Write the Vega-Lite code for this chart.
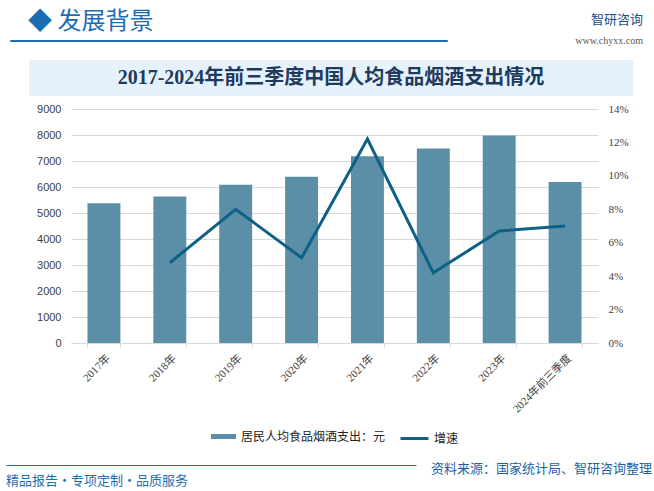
{
  "$schema": "https://vega.github.io/schema/vega-lite/v6.json",
  "background": "white",
  "padding": {"left": 5, "top": 9, "right": 0, "bottom": 0},
  "config": {
    "view": {"stroke": null},
    "font": "Noto Sans CJK SC",
    "title": {"font": "Noto Sans CJK SC", "fontWeight": "normal"},
    "legend": {"layout": {"bottom": {"anchor": "middle", "direction": "horizontal", "margin": 13}}}
  },
  "datasets": {
    "main": [
      {"year": "2017年", "spend": 5374, "growth": null},
      {"year": "2018年", "spend": 5631, "growth": 0.048},
      {"year": "2019年", "spend": 6084, "growth": 0.080},
      {"year": "2020年", "spend": 6397, "growth": 0.051},
      {"year": "2021年", "spend": 7178, "growth": 0.122},
      {"year": "2022年", "spend": 7481, "growth": 0.042},
      {"year": "2023年", "spend": 7983, "growth": 0.067},
      {"year": "2024年前三季度", "spend": 6191, "growth": 0.070}
    ],
    "titleRow": [{"t": "2017-2024年前三季度中国人均食品烟酒支出情况"}],
    "blank": [{"k": 1}]
  },
  "spacing": 0,
  "vconcat": [
    {
      "spacing": 0,
      "hconcat": [
        {"width": 3, "height": 20, "data": {"name": "blank"}, "mark": {"type": "text"}, "encoding": {}},
        {
          "width": 437,
          "height": 1,
          "view": {"stroke": "#1d6fb0", "strokeWidth": 1},
          "title": {"text": "\u2800◆ 发展背景", "anchor": "start", "fontSize": 24, "color": "#1b6cb1", "offset": 1},
          "data": {"name": "blank"},
          "mark": {"type": "text"},
          "encoding": {}
        },
        {"width": 120, "height": 1, "data": {"name": "blank"}, "mark": {"type": "text"}, "encoding": {}},
        {
          "width": 75,
          "height": 1,
          "title": {"text": "智研咨询", "subtitle": "www.chyxx.com", "anchor": "end", "fontSize": 13, "color": "#1d4f8a", "subtitleFontSize": 10, "subtitleColor": "#555555", "subtitleFont": "Liberation Serif", "subtitlePadding": 9, "offset": -11},
          "data": {"name": "blank"},
          "mark": {"type": "text"},
          "encoding": {}
        }
      ]
    },
    {
      "spacing": 0,
      "hconcat": [
        {"width": 23, "height": 43, "data": {"name": "blank"}, "mark": {"type": "text"}, "encoding": {}},
        {
          "width": 604,
          "height": 36,
          "view": {"fill": "#e6f2fb", "stroke": null},
          "data": {"name": "titleRow"},
          "mark": {"type": "text", "font": "Liberation Serif, Noto Sans CJK SC", "fontSize": 20, "fontWeight": "bold", "color": "#1f3a5f"},
          "encoding": {"text": {"field": "t"}}
        }
      ]
    },
    {
      "spacing": 0,
      "hconcat": [
        {"width": 30, "height": 343, "data": {"name": "blank"}, "mark": {"type": "text"}, "encoding": {}},
        {
          "width": 527,
          "height": 234,
          "data": {"name": "main"},
          "encoding": {
            "x": {
              "field": "year", "type": "ordinal", "sort": null,
              "scale": {"paddingInner": 0.5, "paddingOuter": 0.25},
              "axis": {"title": null, "labelAngle": -45, "labelFont": "Liberation Serif, Noto Sans CJK SC", "labelFontSize": 11, "labelColor": "#404040", "domainColor": "#d9d9d9", "tickColor": "#d9d9d9", "tickSize": 4, "tickBand": "extent", "labelPadding": 5, "grid": false}
            }
          },
          "layer": [
            {
              "mark": {"type": "bar"},
              "encoding": {
                "y": {"field": "spend", "type": "quantitative", "scale": {"domain": [0, 9000]},
                  "axis": {"title": null, "values": [0,1000,2000,3000,4000,5000,6000,7000,8000,9000], "format": "d", "grid": true, "gridColor": "#d9d9d9", "domain": false, "ticks": false, "labelFont": "Liberation Sans", "labelFontSize": 11, "labelColor": "#404040", "labelPadding": 10}},
                "fill": {"datum": "居民人均食品烟酒支出：元", "type": "nominal", "scale": {"range": ["#5B8FA8"]},
                  "legend": {"title": null, "orient": "bottom", "symbolType": "M-1,-0.2H1V0.2H-1Z", "symbolSize": 625, "labelFontSize": 12, "labelColor": "#222222", "labelFont": "Noto Sans CJK SC", "offset": 8}}
              }
            },
            {
              "transform": [{"filter": "datum.growth != null"}],
              "mark": {"type": "line", "strokeWidth": 3},
              "encoding": {
                "y": {"field": "growth", "type": "quantitative", "scale": {"domain": [0, 0.14]},
                  "axis": {"orient": "right", "title": null, "values": [0,0.02,0.04,0.06,0.08,0.1,0.12,0.14], "format": ".0%", "grid": false, "domain": false, "ticks": false, "labelFont": "Liberation Serif", "labelFontSize": 11, "labelColor": "#404040", "labelPadding": 10}},
                "stroke": {"datum": "增速", "type": "nominal", "scale": {"range": ["#0E6186"]},
                  "legend": {"title": null, "orient": "bottom", "symbolType": "stroke", "symbolSize": 784, "symbolStrokeWidth": 3, "labelFontSize": 12, "labelColor": "#222222", "labelFont": "Noto Sans CJK SC", "offset": 8}}
              }
            }
          ],
          "resolve": {"scale": {"y": "independent", "fill": "independent", "stroke": "independent"}}
        }
      ]
    },
    {
      "spacing": 0,
      "hconcat": [
        {
          "width": 410,
          "height": 7,
          "view": {"stroke": "#1d6fb0", "strokeWidth": 1, "strokeDash": [0, 417, 410, 7]},
          "title": {"text": "精品报告・专项定制・品质服务", "orient": "bottom", "anchor": "start", "fontSize": 13, "color": "#1d6fb0", "offset": 8},
          "data": {"name": "blank"},
          "mark": {"type": "text"},
          "encoding": {}
        },
        {"width": 10, "height": 1, "data": {"name": "blank"}, "mark": {"type": "text"}, "encoding": {}},
        {
          "width": 225,
          "height": 1,
          "title": {"text": "资料来源：国家统计局、智研咨询整理", "orient": "bottom", "anchor": "end", "fontSize": 13, "color": "#1d5fa6", "offset": -1},
          "data": {"name": "blank"},
          "mark": {"type": "text"},
          "encoding": {}
        }
      ]
    }
  ]
}
